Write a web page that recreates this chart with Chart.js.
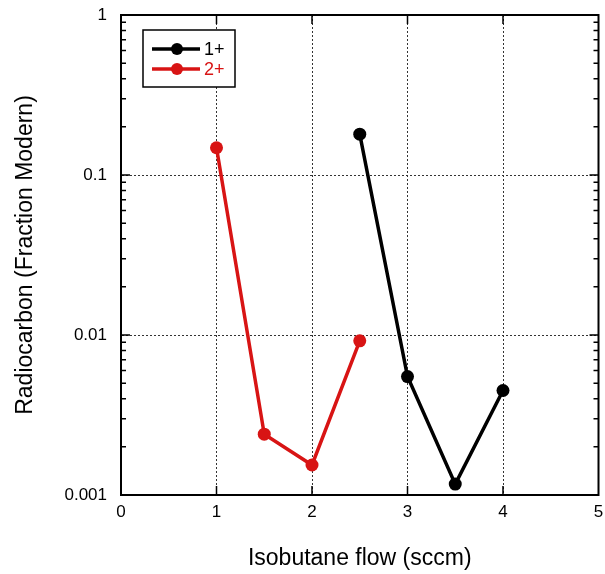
<!DOCTYPE html>
<html>
<head>
<meta charset="utf-8">
<script src="https://cdn.jsdelivr.net/npm/chart.js@4"></script>
<style>
  body { margin: 0; background: #fff; }
  canvas { display: block; }
</style>
</head>
<body>
<canvas id="grafico" width="605" height="574"></canvas>
<script>
// datos
const flujo1 = [2.5, 3, 3.5, 4];
const fm1 = [0.18, 0.0055, 0.00117, 0.0045];
const flujo2 = [1, 1.5, 2, 2.5];
const fm2 = [0.148, 0.0024, 0.00154, 0.0092];
const etiquetas = ['1+', '2+'];
const ticksX = [0, 1, 2, 3, 4, 5];
const ticksY = [0.001, 0.01, 0.1, 1];
const textosY = ['0.001', '0.01', '0.1', '1'];

const ROJO = '#d81414';
const fuente = 'Liberation Sans, Arial, sans-serif';

// marco, ticks hacia adentro y leyenda dentro del area
const marco = {
  id: 'marco',
  beforeDatasetsDraw(chart) {
    const ctx = chart.ctx;
    const { left, right, top, bottom } = chart.chartArea;
    const sx = chart.scales.x, sy = chart.scales.y;
    ctx.save();
    ctx.strokeStyle = '#000';
    ctx.lineWidth = 1.5;
    ctx.beginPath();
    ticksX.slice(1, -1).forEach(v => {
      const x = sx.getPixelForValue(v);
      ctx.moveTo(x, bottom); ctx.lineTo(x, bottom - 9);
      ctx.moveTo(x, top); ctx.lineTo(x, top + 9);
    });
    ticksY.forEach((d, i) => {
      const y = sy.getPixelForValue(d);
      ctx.moveTo(left, y); ctx.lineTo(left + 9, y);
      ctx.moveTo(right, y); ctx.lineTo(right - 9, y);
      if (i < ticksY.length - 1) {
        for (let m = 2; m <= 9; m++) {
          const ym = sy.getPixelForValue(d * m);
          ctx.moveTo(left, ym); ctx.lineTo(left + 5, ym);
          ctx.moveTo(right, ym); ctx.lineTo(right - 5, ym);
        }
      }
    });
    ctx.stroke();
    ctx.lineWidth = 2;
    ctx.strokeRect(left, top, right - left, bottom - top);
    ctx.restore();
  },
  afterDraw(chart) {
    const ctx = chart.ctx;
    const bx = 143, by = 30, bw = 92, bh = 57;
    ctx.save();
    ctx.fillStyle = '#fff';
    ctx.fillRect(bx, by, bw, bh);
    ctx.strokeStyle = '#000';
    ctx.lineWidth = 1.5;
    ctx.strokeRect(bx, by, bw, bh);
    chart.data.datasets.forEach((ds, i) => {
      const y = by + 19 + i * 20;
      ctx.strokeStyle = ds.borderColor;
      ctx.lineWidth = 3.5;
      ctx.beginPath();
      ctx.moveTo(152, y); ctx.lineTo(200, y);
      ctx.stroke();
      ctx.fillStyle = ds.borderColor;
      ctx.beginPath();
      ctx.arc(177, y, 6, 0, Math.PI * 2);
      ctx.fill();
      ctx.font = '18px ' + fuente;
      ctx.textBaseline = 'middle';
      ctx.fillText(ds.label, 204, y + 1);
    });
    ctx.restore();
  }
};

const serie = (xs, ys) => xs.map((x, i) => ({ x: x, y: ys[i] }));

new Chart(document.getElementById('grafico').getContext('2d'), {
  type: 'line',
  data: {
    datasets: [
      { label: etiquetas[0], data: serie(flujo1, fm1), borderColor: '#000', backgroundColor: '#000',
        borderWidth: 3.5, pointRadius: 6.5, pointBorderWidth: 0 },
      { label: etiquetas[1], data: serie(flujo2, fm2), borderColor: ROJO, backgroundColor: ROJO,
        borderWidth: 3.5, pointRadius: 6.5, pointBorderWidth: 0 }
    ]
  },
  options: {
    responsive: false,
    animation: false,
    layout: { padding: { top: 0, right: 0, left: 0, bottom: 0 } },
    plugins: { legend: { display: false }, tooltip: { enabled: false } },
    scales: {
      x: {
        type: 'linear', min: 0, max: 5,
        afterBuildTicks: s => { s.ticks = ticksX.map(v => ({ value: v })); },
        afterFit: s => { s.height = 79; s.paddingRight = 5; },
        ticks: { color: '#000', font: { size: 17, family: fuente }, padding: 7 },
        grid: { color: '#333', lineWidth: 1, drawTicks: false },
        border: { color: '#000', width: 2, dash: [2, 2] },
        title: { display: true, text: 'Isobutane flow (sccm)', color: '#000',
                 font: { size: 23, family: fuente }, padding: { top: 0, bottom: 2 } }
      },
      y: {
        type: 'logarithmic', min: 0.001, max: 1,
        afterBuildTicks: s => { s.ticks = ticksY.map(v => ({ value: v })); },
        afterFit: s => { s.width = 121; s.paddingTop = 15; },
        ticks: { color: '#000', font: { size: 17, family: fuente }, padding: 14,
                 callback: v => textosY[ticksY.indexOf(v)] },
        grid: { color: '#333', lineWidth: 1, drawTicks: false },
        border: { color: '#000', width: 2, dash: [2, 2] },
        title: { display: true, text: 'Radiocarbon (Fraction Modern)', color: '#000',
                 font: { size: 23, family: fuente }, padding: { top: 12, bottom: 0 } }
      }
    }
  },
  plugins: [marco]
});
</script>
</body>
</html>
